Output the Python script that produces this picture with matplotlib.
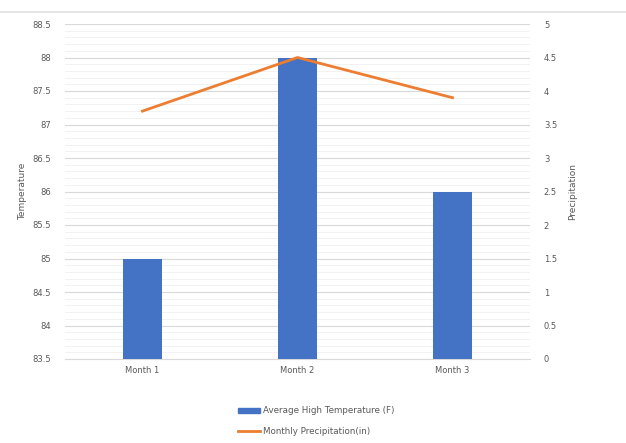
import matplotlib
matplotlib.use("Agg")
import matplotlib.pyplot as plt
import numpy as np
from matplotlib.ticker import MultipleLocator
from matplotlib.lines import Line2D
from matplotlib.patches import Patch

categories = ["Month 1", "Month 2", "Month 3"]
temperature = [85, 88, 86]
precipitation = [3.7, 4.5, 3.9]
temp_ticks = [83.5, 84, 84.5, 85, 85.5, 86, 86.5, 87, 87.5, 88, 88.5]
precip_ticks = [0, 0.5, 1, 1.5, 2, 2.5, 3, 3.5, 4, 4.5, 5]

bar_color = "#4472C4"
line_color = "#ED7D31"
text_color = "#595959"

fig = plt.figure(figsize=(6.26, 4.43), dpi=100)
ax = fig.add_axes([65/626, 1-359/443, 465/626, (359-24)/443])
x = np.arange(len(categories))

ax.bar(x, temperature, width=0.25, color=bar_color, zorder=3, bottom=0)
ax.set_ylim(83.5, 88.5)
ax.set_xlim(-0.5, 2.5)
ax.set_yticks(temp_ticks)
ax.set_yticklabels([f"{t:g}" for t in temp_ticks])
ax.yaxis.set_minor_locator(MultipleLocator(0.1))
ax.grid(axis="y", which="major", color="#D9D9D9", linewidth=0.8, zorder=0)
ax.grid(axis="y", which="minor", color="#F0F0F0", linewidth=0.6, zorder=0)
ax.set_xticks(x)
ax.set_xticklabels(categories)
ax.set_ylabel("Temperature", fontsize=6.5, color=text_color, labelpad=4)

ax2 = ax.twinx()
ax2.plot(x, precipitation, color=line_color, linewidth=2, zorder=4)
ax2.set_ylim(0, 5)
ax2.set_yticks(precip_ticks)
ax2.set_yticklabels([f"{t:g}" for t in precip_ticks])
ax2.set_ylabel("Precipitation", fontsize=6.5, color=text_color, labelpad=8)

for a in (ax, ax2):
    for s in a.spines.values():
        s.set_visible(False)
    a.tick_params(length=0, labelsize=6, colors=text_color, pad=10)
ax.spines["bottom"].set_visible(True)
ax.spines["bottom"].set_color("#D9D9D9")
ax.tick_params(axis="y", which="minor", length=0)
ax.tick_params(axis="x", pad=5)

handles = [Patch(color=bar_color, label="Average High Temperature (F)"),
           Line2D([], [], color=line_color, linewidth=2, label="Monthly Precipitation(in)")]
fig.legend(handles=handles, loc="center", bbox_to_anchor=(0.505, 1-421/443), ncol=1,
           frameon=False, fontsize=6.3, labelcolor=text_color, handlelength=2.6,
           handleheight=0.5, handletextpad=0.3, labelspacing=1.3)

fig.add_artist(Line2D([0, 1], [1-12/443, 1-12/443], color="#E0E0E0", linewidth=1.2))

fig.savefig("out.png", dpi=100)
